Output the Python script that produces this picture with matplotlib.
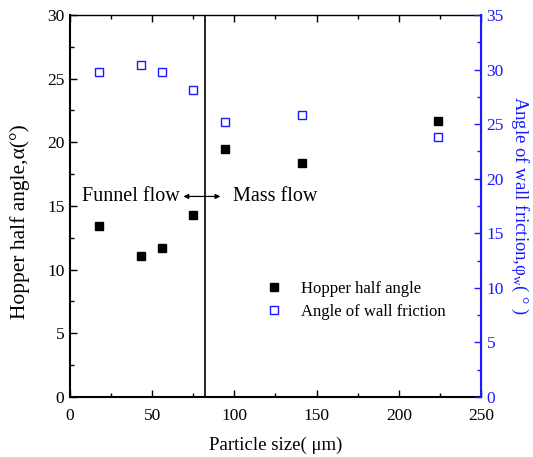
import matplotlib
matplotlib.use("Agg")
import matplotlib.pyplot as plt
from matplotlib.ticker import MultipleLocator

plt.rcParams['font.family'] = ['Liberation Serif', 'DejaVu Serif']
plt.rcParams['mathtext.fontset'] = 'custom'
plt.rcParams['mathtext.rm'] = 'Liberation Serif'
plt.rcParams['mathtext.it'] = 'Liberation Serif:italic'

particle_size = [17.6, 43.2, 56.2, 74.8, 94.5, 141.3, 224.0]
hopper_half_angle = [13.4, 11.05, 11.7, 14.3, 19.5, 18.35, 21.65]
wall_friction = [29.8, 30.45, 29.75, 28.1, 25.15, 25.8, 23.85]
boundary_x = 82

BLUE = '#1a1aff'

fig = plt.figure(figsize=(5.33, 4.57), dpi=100)
ax = fig.add_axes([0.1313, 0.1313, 0.7711, 0.8359])
ax2 = ax.twinx()

h1, = ax.plot(particle_size, hopper_half_angle, 's', color='black', markersize=6,
              linestyle='none', label='Hopper half angle')
h2, = ax2.plot(particle_size, wall_friction, 's', markerfacecolor='white',
               markeredgecolor=BLUE, markeredgewidth=1.0, markersize=6,
               linestyle='none', label='Angle of wall friction')

ax.axvline(boundary_x, color='black', linewidth=1.2)

ax.set_xlim(0, 250)
ax.set_ylim(0, 30)
ax2.set_ylim(0, 35)

ax.xaxis.set_major_locator(MultipleLocator(50))
ax.xaxis.set_minor_locator(MultipleLocator(25))
ax.yaxis.set_major_locator(MultipleLocator(5))
ax.yaxis.set_minor_locator(MultipleLocator(2.5))
ax2.yaxis.set_major_locator(MultipleLocator(5))
ax2.yaxis.set_minor_locator(MultipleLocator(2.5))

ax.tick_params(axis='both', which='major', direction='in', length=5, width=1.0,
               labelsize=12.5, top=True, pad=4)
ax.tick_params(axis='x', which='major', pad=8)
ax.tick_params(axis='both', which='minor', direction='in', length=3, width=1.0, top=True)
ax.tick_params(axis='y', which='both', right=False)
ax2.tick_params(axis='y', which='major', direction='in', length=5, width=1.0,
                colors=BLUE, labelsize=12.5, pad=4)
ax2.tick_params(axis='y', which='minor', direction='in', length=3, width=1.0, colors=BLUE)

for s in ['left', 'bottom']:
    ax.spines[s].set_linewidth(1.5)
ax.spines['top'].set_linewidth(1.0)
ax2.spines['right'].set_color(BLUE)
ax2.spines['right'].set_linewidth(1.5)
ax2.spines['left'].set_visible(False)
ax2.spines['top'].set_visible(False)
ax2.spines['bottom'].set_visible(False)

ax.set_xlabel('Particle size( \u03bcm)', fontsize=13.5, labelpad=9)
ax.set_ylabel('Hopper half angle,\u03b1(\u00b0)', fontsize=15.5)
ax.yaxis.set_label_coords(-0.097, 0.458)
ax2.set_ylabel('Angle of wall friction,\u03c6$_{\\mathrm{w}}$( \u00b0 )', fontsize=13.5,
               color=BLUE, rotation=-90, labelpad=19)

ax.annotate('', xy=(69, 15.75), xytext=(91.5, 15.75),
            arrowprops=dict(arrowstyle='<|-|>', color='black', lw=0.9,
                            mutation_scale=7, shrinkA=0, shrinkB=0))
ax.text(66.5, 15.75, 'Funnel flow', fontsize=14.5, ha='right', va='center')
ax.text(99, 15.75, 'Mass flow', fontsize=14.5, ha='left', va='center')

ax.legend(handles=[h1, h2], loc='upper left', bbox_to_anchor=(0.46, 0.322),
          frameon=False, fontsize=12, handlelength=1.0, handletextpad=1.1,
          labelspacing=0.45, borderaxespad=0)

fig.savefig('out.png', dpi=100)
